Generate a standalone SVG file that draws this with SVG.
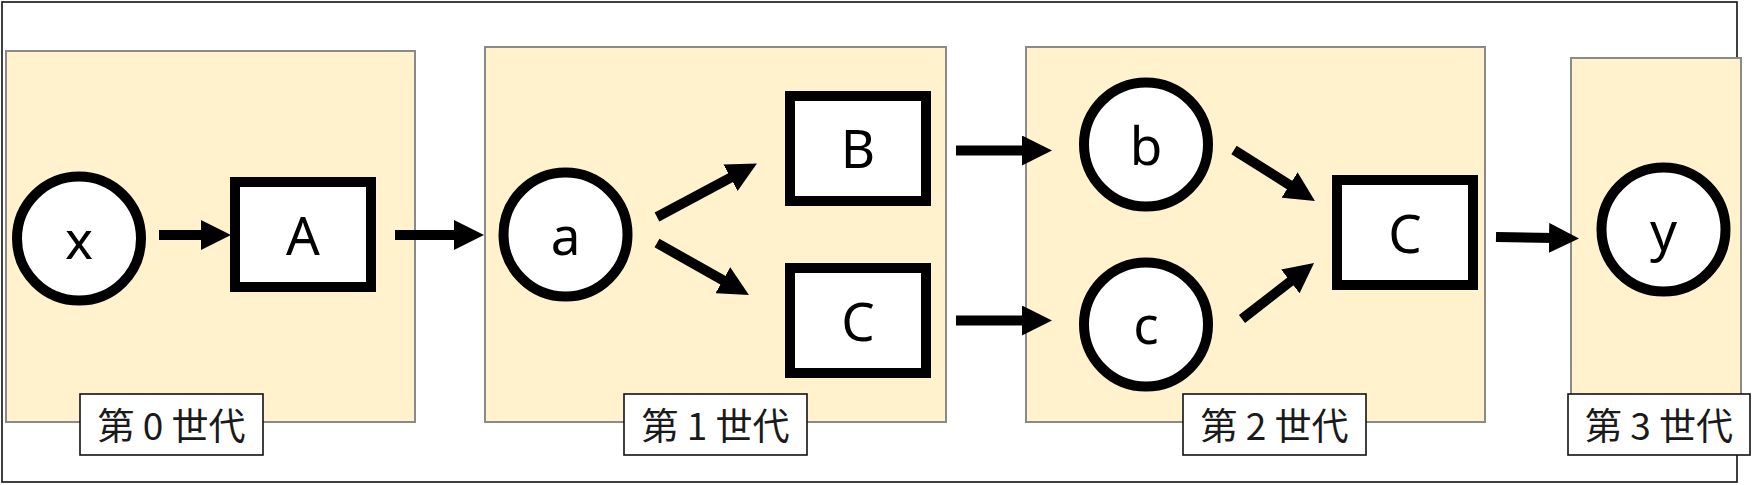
<svg xmlns="http://www.w3.org/2000/svg" width="1762" height="485" viewBox="0 0 1762 485">
  <style>
    .frame { fill: #ffffff; stroke: #111111; stroke-width: 1.6; }
    .gen { fill: #FFF2CC; stroke: #8a8a8a; stroke-width: 2; }
    .tag { fill: #ffffff; stroke: #111111; stroke-width: 1.6; }
    .tagtxt { font-family: "Noto Sans CJK JP", "Noto Sans CJK SC", sans-serif; font-size: 37px; fill: #1a1a1a; text-anchor: middle; dominant-baseline: central; }
    .node { fill: #ffffff; stroke: #000000; stroke-width: 10; }
    .lbl { font-family: "Noto Sans", "Liberation Sans", sans-serif; font-size: 53px; fill: #000000; text-anchor: middle; }
    .conn { stroke: #000000; stroke-width: 10; stroke-linecap: butt; fill: none; marker-end: url(#ah); }
  </style>
  <defs>
    <marker id="ah" markerUnits="userSpaceOnUse" viewBox="0 0 30 30" refX="5" refY="15" markerWidth="30" markerHeight="30" orient="auto">
      <path d="M0,0 L30,15 L0,30 Z" fill="#000000"/>
    </marker>
  </defs>

  <rect class="frame" x="2" y="2" width="1735" height="480"/>

  <g id="gen0">
    <rect class="gen" x="6" y="51" width="409" height="371"/>
    <rect class="tag" x="80" y="394" width="183" height="61"/>
    <text class="tagtxt" x="171.5" y="424">第 0 世代</text>
  </g>
  <g id="gen1">
    <rect class="gen" x="485" y="47" width="461" height="375"/>
    <rect class="tag" x="624" y="394" width="183" height="61"/>
    <text class="tagtxt" x="715.5" y="424">第 1 世代</text>
  </g>
  <g id="gen2">
    <rect class="gen" x="1026" y="47" width="459" height="375"/>
    <rect class="tag" x="1183" y="394" width="183" height="61"/>
    <text class="tagtxt" x="1274.5" y="424">第 2 世代</text>
  </g>
  <g id="gen3">
    <rect class="gen" x="1571" y="58" width="170" height="364"/>
    <rect class="tag" x="1568" y="394" width="182" height="61"/>
    <text class="tagtxt" x="1659" y="424">第 3 世代</text>
  </g>

  <g id="connectors">
    <line class="conn" x1="159" y1="235" x2="206" y2="235"/>
    <line class="conn" x1="395" y1="235" x2="459" y2="235"/>
    <line class="conn" x1="657" y1="217" x2="734.9" y2="175.3"/>
    <line class="conn" x1="657" y1="243" x2="727.2" y2="282.7"/>
    <line class="conn" x1="956" y1="150.5" x2="1027" y2="150.5"/>
    <line class="conn" x1="956" y1="320.5" x2="1027" y2="320.5"/>
    <line class="conn" x1="1234" y1="150" x2="1293.8" y2="187.7"/>
    <line class="conn" x1="1242" y1="319" x2="1294.3" y2="278.4"/>
    <line class="conn" x1="1496" y1="237" x2="1554" y2="238"/>
  </g>

  <g id="node-x">
    <circle class="node" cx="79" cy="238.5" r="62"/>
    <text class="lbl" x="79" y="259">x</text>
  </g>
  <g id="node-A">
    <rect class="node" x="235" y="182" width="136" height="105"/>
    <text class="lbl" x="303" y="255">A</text>
  </g>
  <g id="node-a">
    <circle class="node" cx="565.5" cy="234.5" r="62"/>
    <text class="lbl" x="565.5" y="255">a</text>
  </g>
  <g id="node-B">
    <rect class="node" x="790" y="96" width="136" height="105"/>
    <text class="lbl" x="858" y="168">B</text>
  </g>
  <g id="node-C1">
    <rect class="node" x="790" y="268" width="136" height="105"/>
    <text class="lbl" x="858" y="341">C</text>
  </g>
  <g id="node-b">
    <circle class="node" cx="1146" cy="144.5" r="62"/>
    <text class="lbl" x="1146" y="165">b</text>
  </g>
  <g id="node-c">
    <circle class="node" cx="1146" cy="324.5" r="62"/>
    <text class="lbl" x="1146" y="344">c</text>
  </g>
  <g id="node-C2">
    <rect class="node" x="1337" y="180" width="136" height="105"/>
    <text class="lbl" x="1405" y="253">C</text>
  </g>
  <g id="node-y">
    <circle class="node" cx="1663.5" cy="229.5" r="62"/>
    <text class="lbl" x="1663.5" y="250">y</text>
  </g>
</svg>
